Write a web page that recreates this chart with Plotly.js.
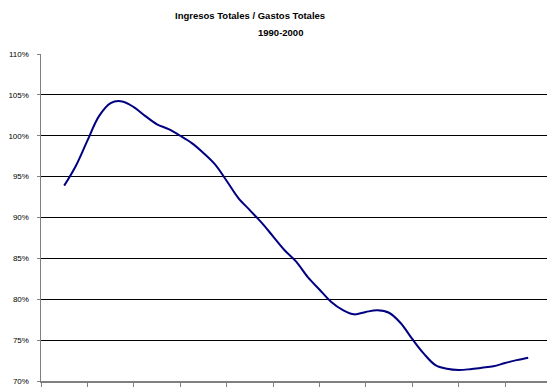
<!DOCTYPE html>
<html>
<head>
<meta charset="utf-8">
<script src="https://cdn.plot.ly/plotly-3.0.1.min.js"></script>
<style>html,body{margin:0;padding:0;background:#fff;}#chart{width:547px;height:391px;}</style>
</head>
<body>
<div id="chart"></div>
<script>
// Quarterly positions, year index 0 = 1990 ... 10 = 2000
var periods = [0,0.25,0.5,0.75,1,1.25,1.5,1.75,2,2.25,2.5,2.75,3,3.25,3.5,3.75,4,4.25,4.5,4.75,5,5.25,5.5,5.75,6,6.25,6.5,6.75,7,7.25,7.5,7.75,8,8.25,8.5,8.75,9,9.25,9.5,9.75,10];
var ratio = [93.9,96.3,99.4,102.4,104.0,104.2,103.5,102.4,101.4,100.8,100.0,99.1,97.9,96.5,94.5,92.4,90.9,89.4,87.7,86.0,84.6,82.7,81.2,79.7,78.7,78.15,78.45,78.65,78.35,77.1,75.15,73.35,71.95,71.5,71.35,71.45,71.62,71.8,72.2,72.55,72.85];
var yTickVals = [70,75,80,85,90,95,100,105,110];
var yTickText = ['70%','75%','80%','85%','90%','95%','100%','105%','110%'];
var xBoundaries = [-0.5,0.5,1.5,2.5,3.5,4.5,5.5,6.5,7.5,8.5,9.5,10.5];
var titleLine1 = 'Ingresos Totales / Gastos Totales';
var titleLine2 = '1990-2000';

var FONT = '"Liberation Sans Narrow", "Arial Narrow", "Liberation Sans", Arial, sans-serif';

var trace = {
  x: periods,
  y: ratio,
  type: 'scatter',
  mode: 'lines',
  line: {color: '#000080', width: 2, shape: 'spline', smoothing: 1},
  hoverinfo: 'skip'
};

var layout = {
  width: 547, height: 391,
  margin: {l: 41, r: 0, t: 54, b: 10, pad: 0},
  paper_bgcolor: '#ffffff', plot_bgcolor: '#ffffff',
  showlegend: false,
  xaxis: {
    type: 'linear', range: [-0.5, 10.405],
    tickvals: xBoundaries, showticklabels: false,
    ticks: 'outside', ticklen: 4, tickcolor: '#808080', tickwidth: 1,
    showgrid: false, zeroline: false,
    showline: true, linecolor: '#808080', linewidth: 1.5
  },
  yaxis: {
    range: [70, 110],
    tickvals: yTickVals, ticktext: yTickText,
    ticks: 'outside', ticklen: 3, tickcolor: '#808080', tickwidth: 1,
    ticklabelstandoff: 6,
    tickfont: {family: FONT, size: 8, color: '#000000'},
    showgrid: true, gridcolor: '#000000', gridwidth: 1,
    zeroline: false,
    showline: true, linecolor: '#808080', linewidth: 1.5
  },
  annotations: [
    {text: '<b>' + titleLine1 + '</b>', xref: 'paper', yref: 'paper', x: (250-41)/506, y: 1 + (54-15)/327,
     xanchor: 'center', yanchor: 'middle', showarrow: false, font: {family: FONT, size: 9.5, color: '#000000'}},
    {text: '<b>' + titleLine2 + '</b>', xref: 'paper', yref: 'paper', x: (280-41)/506, y: 1 + (54-33)/327,
     xanchor: 'center', yanchor: 'middle', showarrow: false, font: {family: FONT, size: 9.5, color: '#000000'}}
  ]
};

Plotly.newPlot('chart', [trace], layout, {displayModeBar: false, staticPlot: true});
</script>
</body>
</html>
